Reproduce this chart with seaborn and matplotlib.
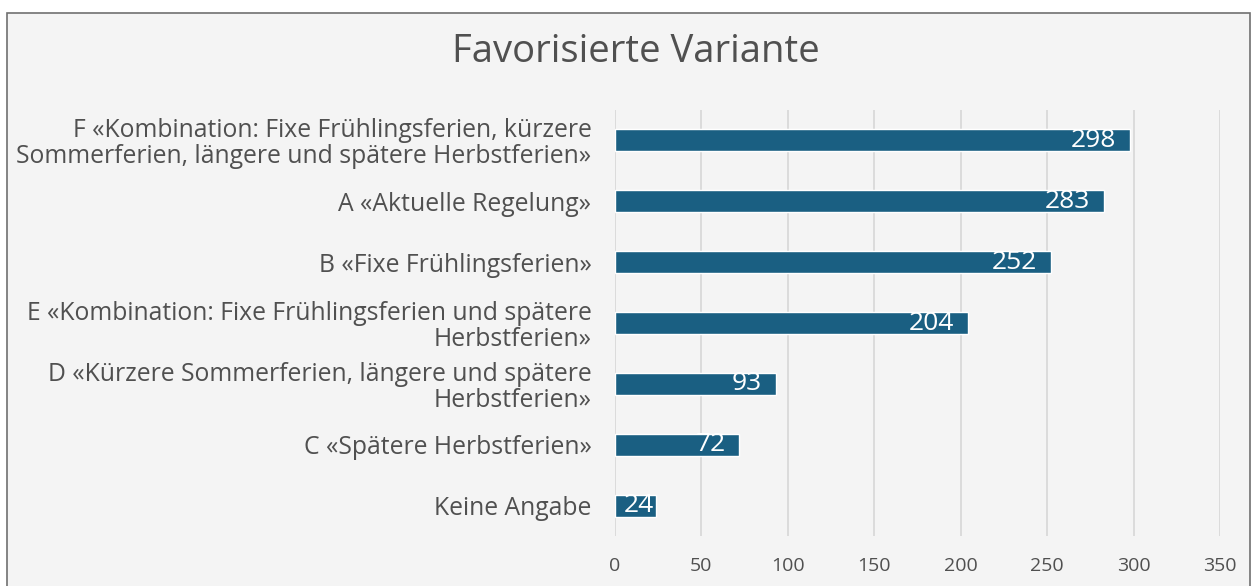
import matplotlib
matplotlib.use("Agg")
import matplotlib.pyplot as plt
import seaborn as sns
import pandas as pd
from matplotlib.patches import Rectangle

categories = [
    "F «Kombination: Fixe Frühlingsferien, kürzere\nSommerferien, längere und spätere Herbstferien»",
    "A «Aktuelle Regelung»",
    "B «Fixe Frühlingsferien»",
    "E «Kombination: Fixe Frühlingsferien und spätere\nHerbstferien»",
    "D «Kürzere Sommerferien, längere und spätere\nHerbstferien»",
    "C «Spätere Herbstferien»",
    "Keine Angabe",
]
values = [298, 283, 252, 204, 93, 72, 24]
xticks = [0, 50, 100, 150, 200, 250, 300, 350]
title = "Favorisierte Variante"

sns.set_theme(style="white")
plt.rcParams['font.family'] = ['Open Sans', 'DejaVu Sans']

bg = "#f4f4f4"
bar_color = "#1a5f82"
text_color = "#505050"

fig = plt.figure(figsize=(12.56, 5.86), dpi=100, facecolor="white")
fig.patches.append(Rectangle((7/1256, -0.1), (1250-7)/1256, 1.1 - 13/586,
                             transform=fig.transFigure, facecolor=bg,
                             edgecolor="#707070", linewidth=1.2, zorder=-10))
ax = fig.add_axes([615/1256, 1-536/586, (1220-615)/1256, (536-110)/586])
ax.set_facecolor(bg)

df = pd.DataFrame({"cat": categories, "val": values})
sns.barplot(data=df, x="val", y="cat", orient="h", color=bar_color,
            width=0.36, saturation=1, ax=ax, zorder=3)

ax.set_xlim(0, 350)
ax.set_xticks(xticks)
ax.xaxis.grid(True, color="#d9d9d9", linewidth=1.3, zorder=0)
ax.set_axisbelow(True)
for s in ax.spines.values():
    s.set_visible(False)
ax.set_xlabel("")
ax.set_ylabel("")
ax.tick_params(axis="x", length=0, pad=15, labelsize=14, labelcolor=text_color)
ax.tick_params(axis="y", length=0, pad=17, labelsize=17.8, labelcolor=text_color)
for lbl in ax.get_yticklabels():
    lbl.set_horizontalalignment("right")
    lbl.set_multialignment("right")
    lbl.set_linespacing(1.05)

for i, v in enumerate(values):
    pad = 10 if v > 50 else 2
    ax.annotate(str(v), xy=(v, i), xytext=(-pad, 0), textcoords="offset points",
                ha="right", va="center", color="white", fontsize=19, zorder=5)

fig.text(636/1256, 1-52/586, title, ha="center", va="center", fontsize=27.5,
         color=text_color)

fig.savefig("out.png", dpi=100, facecolor="white")
